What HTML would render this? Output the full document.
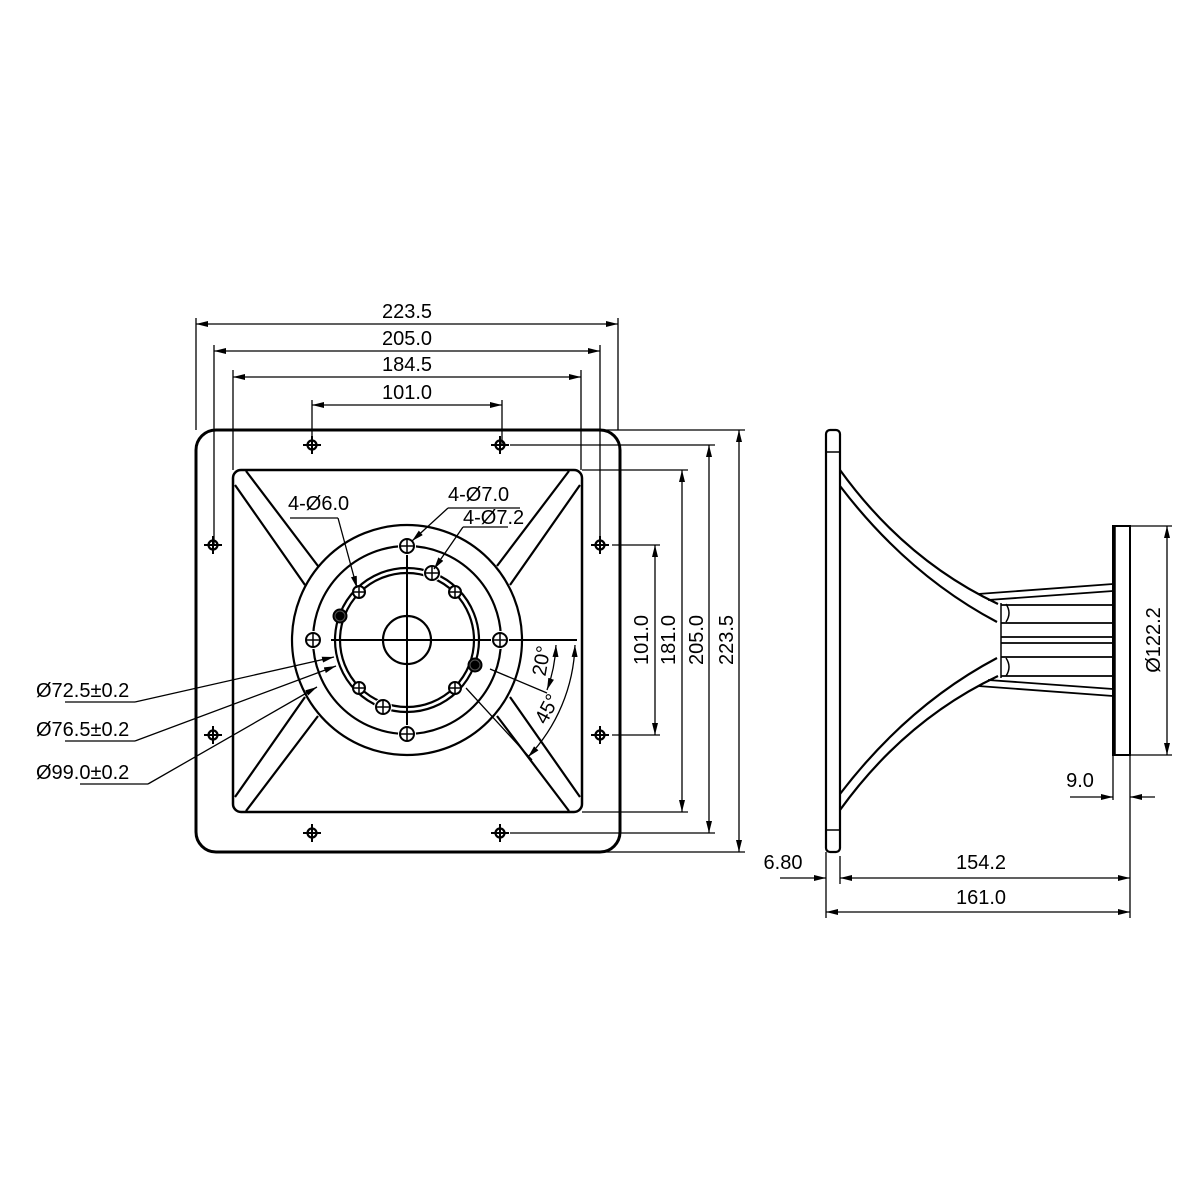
<!DOCTYPE html>
<html><head><meta charset="utf-8"><style>
html,body{margin:0;padding:0;background:#fff}
svg{display:block}
text{font-family:"Liberation Sans",sans-serif;font-size:20px;fill:#000}
</style></head><body>
<svg width="1199" height="1199" viewBox="0 0 1199 1199" xmlns="http://www.w3.org/2000/svg">
<defs>
<marker id="a" viewBox="0 0 12 6" refX="12" refY="3" markerWidth="12" markerHeight="6" orient="auto-start-reverse" markerUnits="userSpaceOnUse"><path d="M0,0 L12,3 L0,6 z" fill="#000"/></marker>
<g id="mh"><circle r="4.5" fill="#fff" stroke="#000" stroke-width="2.2"/><path d="M-9,0H9M0,-9V9" stroke="#000" stroke-width="2"/></g>
<g id="h7"><circle r="9" fill="#fff" stroke="none"/><circle r="7" fill="#fff" stroke="#000" stroke-width="2"/><path d="M-7,0H7M0,-7V7" stroke="#000" stroke-width="1.5"/></g>
<g id="h6"><circle r="6" fill="#fff" stroke="#000" stroke-width="2"/><path d="M-6,0H6M0,-6V6" stroke="#000" stroke-width="1.5"/></g>
<g id="hf"><circle r="7.5" fill="#000"/><circle r="5" fill="none" stroke="#555" stroke-width="1"/></g>
</defs>
<g fill="none" stroke="#000">
<rect x="196" y="430" width="424" height="422" rx="20" stroke-width="3"/>
<rect x="233" y="470" width="349" height="342" rx="8" stroke-width="2.5"/>
<g stroke-width="2.2">
<path d="M235,485 L305,585 M246,471 L318,566"/>
<path d="M580,485 L510,585 M569,471 L497,566"/>
<path d="M235,797 L305,697 M246,811 L318,716"/>
<path d="M580,797 L510,697 M569,811 L497,716"/>
</g>
<circle cx="407" cy="640" r="115" stroke-width="2.2" fill="#fff"/>
<circle cx="407" cy="640" r="94" stroke-width="2.2"/>
<circle cx="407" cy="640" r="72" stroke-width="2.2"/>
<circle cx="407" cy="640" r="67" stroke-width="2.2"/>
<circle cx="407" cy="640" r="24" stroke-width="2.2"/>
<path d="M331,640H577 M407,545V735" stroke-width="2"/>
</g>
<g>
<use href="#mh" x="312" y="445"/><use href="#mh" x="500" y="445"/>
<use href="#mh" x="213" y="545"/><use href="#mh" x="600" y="545"/>
<use href="#mh" x="213" y="735"/><use href="#mh" x="600" y="735"/>
<use href="#mh" x="312" y="833"/><use href="#mh" x="500" y="833"/>
<use href="#h7" x="407" y="546"/><use href="#h7" x="313" y="640"/>
<use href="#h7" x="500" y="640"/><use href="#h7" x="407" y="734"/>
<use href="#h6" x="359" y="592"/><use href="#h6" x="455" y="592"/>
<use href="#h6" x="359" y="688"/><use href="#h6" x="455" y="688"/>
<use href="#h7" x="432" y="573"/><use href="#h7" x="383" y="707"/>
<use href="#hf" x="340" y="616"/><use href="#hf" x="475" y="665"/>
</g>
<g stroke="#000" stroke-width="1.3" fill="none">
<path d="M196,430V318 M618,430V318 M214,545V345 M600,545V345 M233,470V370 M581,470V370 M312,445V400 M502,445V400"/>
<line x1="196" y1="324" x2="618" y2="324" marker-start="url(#a)" marker-end="url(#a)"/>
<line x1="214" y1="351" x2="600" y2="351" marker-start="url(#a)" marker-end="url(#a)"/>
<line x1="233" y1="377" x2="581" y2="377" marker-start="url(#a)" marker-end="url(#a)"/>
<line x1="312" y1="405" x2="502" y2="405" marker-start="url(#a)" marker-end="url(#a)"/>
<path d="M612,545H660 M612,735H660 M582,470H688 M582,812H688 M510,445H715 M510,833H715 M605,430H745 M605,852H745"/>
<line x1="655" y1="545" x2="655" y2="735" marker-start="url(#a)" marker-end="url(#a)"/>
<line x1="682" y1="470" x2="682" y2="812" marker-start="url(#a)" marker-end="url(#a)"/>
<line x1="709" y1="445" x2="709" y2="833" marker-start="url(#a)" marker-end="url(#a)"/>
<line x1="739" y1="430" x2="739" y2="852" marker-start="url(#a)" marker-end="url(#a)"/>
<path d="M290,518H338" />
<line x1="338" y1="518" x2="357" y2="588" marker-end="url(#a)"/>
<path d="M448,508H520"/>
<line x1="448" y1="508" x2="412" y2="541" marker-end="url(#a)"/>
<path d="M463,527H508"/>
<line x1="463" y1="527" x2="434" y2="569" marker-end="url(#a)"/>
<path d="M65,702H135"/>
<line x1="135" y1="702" x2="334" y2="657" marker-end="url(#a)"/>
<path d="M65,741H135"/>
<line x1="135" y1="741" x2="336" y2="666" marker-end="url(#a)"/>
<path d="M80,784H148"/>
<line x1="148" y1="784" x2="317" y2="687" marker-end="url(#a)"/>
<path d="M490,669 L547,693"/>
<path d="M556,645 A148,148 0 0 1 547,690" marker-start="url(#a)" marker-end="url(#a)"/>
<path d="M466,688 L532,760"/>
<path d="M575,645 A170,170 0 0 1 528,757" marker-start="url(#a)" marker-end="url(#a)"/>
</g>
<g fill="none" stroke="#000" stroke-width="2.2">
<rect x="826" y="430" width="14" height="422" rx="4"/>
<path d="M826,452H840 M826,830H840" stroke-width="1.5"/>
<path d="M840,470 Q905,560 998,604"/>
<path d="M840,486 Q908,575 997,622"/>
<path d="M840,810 Q905,720 998,676"/>
<path d="M840,794 Q908,705 997,658"/>
<path d="M978,594 L1113,584 M988,600 L1113,591" stroke-width="1.8"/>
<path d="M978,686 L1113,696 M988,680 L1113,689" stroke-width="1.8"/>
<path d="M1001,605H1113 M1001,623H1113 M1001,637H1113 M1001,643H1113 M1001,657H1113 M1001,676H1113" stroke-width="1.8"/>
<path d="M1001,603V678 M1006,604 Q1012,613 1006,622 M1006,658 Q1012,667 1006,676" stroke-width="1.5"/>
<rect x="1113" y="526" width="17" height="229" stroke-width="2"/>
<path d="M1114,526V755" stroke-width="3.5"/>
</g>
<g stroke="#000" stroke-width="1.3" fill="none">
<path d="M1130,526H1172 M1130,755H1172"/>
<line x1="1167" y1="526" x2="1167" y2="755" marker-start="url(#a)" marker-end="url(#a)"/>
<path d="M1113,755V800 M1130,755V918"/>
<line x1="1070" y1="797" x2="1113" y2="797" marker-end="url(#a)"/>
<line x1="1155" y1="797" x2="1130" y2="797" marker-end="url(#a)"/>
<path d="M826,852V918 M840,856V884"/>
<line x1="780" y1="878" x2="826" y2="878" marker-end="url(#a)"/>
<line x1="840" y1="878" x2="1130" y2="878" marker-start="url(#a)" marker-end="url(#a)"/>
<line x1="826" y1="912" x2="1130" y2="912" marker-start="url(#a)" marker-end="url(#a)"/>
</g>
<text x="407" y="318" text-anchor="middle">223.5</text>
<text x="407" y="345" text-anchor="middle">205.0</text>
<text x="407" y="371" text-anchor="middle">184.5</text>
<text x="407" y="399" text-anchor="middle">101.0</text>
<text transform="translate(648,640) rotate(-90)" text-anchor="middle">101.0</text>
<text transform="translate(675,640) rotate(-90)" text-anchor="middle">181.0</text>
<text transform="translate(703,640) rotate(-90)" text-anchor="middle">205.0</text>
<text transform="translate(733,640) rotate(-90)" text-anchor="middle">223.5</text>
<text x="288" y="510">4-Ø6.0</text>
<text x="448" y="501">4-Ø7.0</text>
<text x="463" y="524">4-Ø7.2</text>
<text x="36" y="697">Ø72.5±0.2</text>
<text x="36" y="736">Ø76.5±0.2</text>
<text x="36" y="779">Ø99.0±0.2</text>
<text transform="translate(548,662) rotate(-80)" text-anchor="middle">20°</text>
<text transform="translate(553,712) rotate(-62)" text-anchor="middle">45°</text>
<text transform="translate(1160,640) rotate(-90)" text-anchor="middle">Ø122.2</text>
<text x="1080" y="787" text-anchor="middle">9.0</text>
<text x="783" y="869" text-anchor="middle">6.80</text>
<text x="981" y="869" text-anchor="middle">154.2</text>
<text x="981" y="904" text-anchor="middle">161.0</text>
</svg>
</body></html>
